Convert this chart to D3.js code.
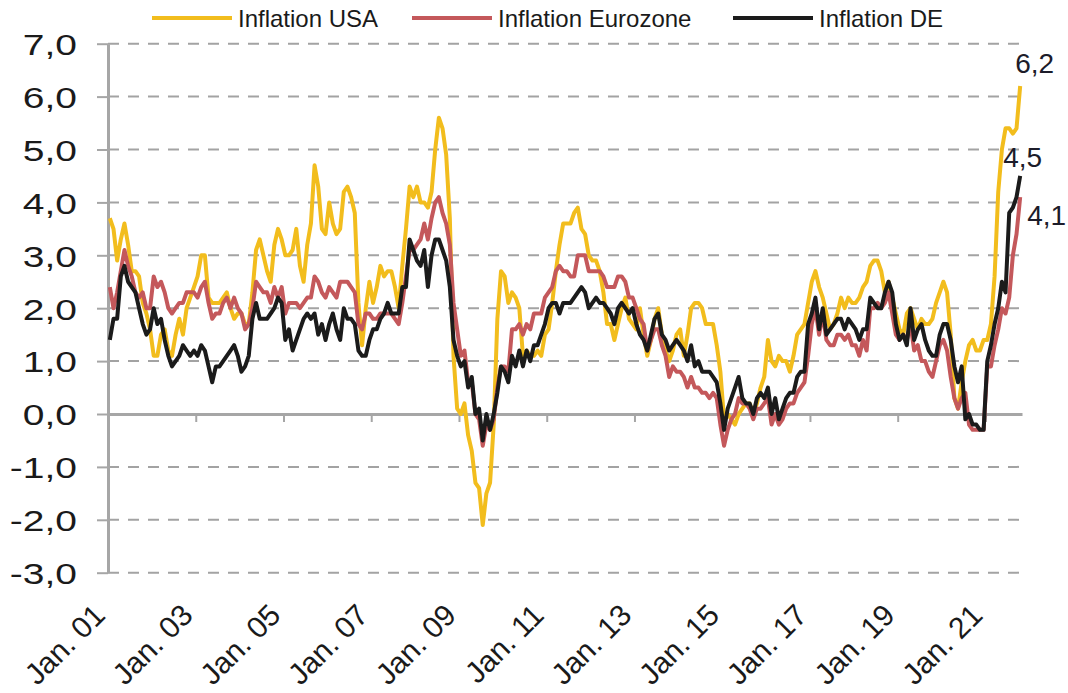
<!DOCTYPE html>
<html>
<head>
<meta charset="utf-8">
<script src="https://cdn.jsdelivr.net/npm/d3@7"></script>
<style>
  html, body { margin: 0; padding: 0; background: #fff; }
  svg { display: block; font-family: "Liberation Sans", Arial, sans-serif; }
</style>
</head>
<body>
<svg id="chart" width="1068" height="693"></svg>
<script>
// Inflation rates, % yoy, monthly Jan 2001 - Oct 2021
const usa = [
  3.7, 3.5, 2.9, 3.3, 3.6, 3.2, 2.7, 2.7, 2.6, 2.1, 1.9, 1.6,
  1.1, 1.1, 1.5, 1.6, 1.2, 1.1, 1.5, 1.8, 1.5, 2.0, 2.2, 2.4,
  2.6, 3.0, 3.0, 2.2, 2.1, 2.1, 2.1, 2.2, 2.3, 2.0, 1.8, 1.9,
  1.9, 1.7, 1.7, 2.3, 3.1, 3.3, 3.0, 2.7, 2.5, 3.2, 3.5, 3.3,
  3.0, 3.0, 3.1, 3.5, 2.8, 2.5, 3.2, 3.6, 4.7, 4.3, 3.5, 3.4,
  4.0, 3.6, 3.4, 3.5, 4.2, 4.3, 4.1, 3.8, 2.1, 1.3, 2.0, 2.5,
  2.1, 2.4, 2.8, 2.6, 2.7, 2.7, 2.4, 2.0, 2.8, 3.5, 4.3, 4.1,
  4.3, 4.0, 4.0, 3.9, 4.2, 5.0, 5.6, 5.4, 4.9, 3.7, 1.1, 0.1,
  0.0, 0.2, -0.4, -0.7, -1.3, -1.4, -2.1, -1.5, -1.3, -0.2, 1.8, 2.7,
  2.6, 2.1, 2.3, 2.2, 2.0, 1.1, 1.2, 1.1, 1.1, 1.2, 1.1, 1.5,
  1.6, 2.1, 2.7, 3.2, 3.6, 3.6, 3.6, 3.8, 3.9, 3.5, 3.4, 3.0,
  2.9, 2.9, 2.7, 2.3, 1.7, 1.7, 1.4, 1.7, 2.0, 2.2, 1.8, 1.7,
  1.6, 2.0, 1.5, 1.1, 1.4, 1.8, 2.0, 1.5, 1.2, 1.0, 1.2, 1.5,
  1.6, 1.1, 1.5, 2.0, 2.1, 2.1, 2.0, 1.7, 1.7, 1.7, 1.3, 0.8,
  -0.1, 0.0, -0.1, -0.2, 0.0, 0.1, 0.2, 0.2, 0.0, 0.2, 0.5, 0.7,
  1.4, 1.0, 0.9, 1.1, 1.0, 1.0, 0.8, 1.1, 1.5, 1.6, 1.7, 2.1,
  2.5, 2.7, 2.4, 2.2, 1.9, 1.6, 1.7, 1.9, 2.2, 2.0, 2.2, 2.1,
  2.1, 2.2, 2.4, 2.5, 2.8, 2.9, 2.9, 2.7, 2.3, 2.5, 2.2, 1.9,
  1.6, 1.5, 1.9, 2.0, 1.8, 1.6, 1.8, 1.7, 1.7, 1.8, 2.1, 2.3,
  2.5, 2.3, 1.5, 0.3, 0.1, 0.6, 1.0, 1.3, 1.4, 1.2, 1.2, 1.4,
  1.4, 1.7, 2.6, 4.2, 5.0, 5.4, 5.4, 5.3, 5.4, 6.2
];

const eurozone = [
  2.4, 2.0, 2.3, 2.7, 3.1, 2.8, 2.6, 2.3, 2.2, 2.3, 2.0, 2.0,
  2.6, 2.4, 2.5, 2.3, 2.0, 1.9, 2.0, 2.1, 2.1, 2.3, 2.3, 2.3,
  2.2, 2.4, 2.5, 2.1, 1.8, 1.9, 1.9, 2.1, 2.2, 2.0, 2.2, 2.0,
  1.9, 1.6, 1.7, 2.0, 2.5, 2.4, 2.3, 2.3, 2.1, 2.4, 2.2, 2.4,
  1.9, 2.1, 2.1, 2.1, 2.0, 2.1, 2.2, 2.2, 2.6, 2.5, 2.3, 2.2,
  2.4, 2.3, 2.2, 2.5, 2.5, 2.5, 2.4, 2.3, 1.7, 1.6, 1.9, 1.9,
  1.8, 1.8, 1.9, 1.9, 1.9, 1.9, 1.8, 1.7, 2.1, 2.6, 3.1, 3.1,
  3.2, 3.3, 3.6, 3.3, 3.7, 4.0, 4.1, 3.8, 3.6, 3.2, 2.1, 1.6,
  1.1, 1.2, 0.6, 0.6, 0.0, -0.1, -0.6, -0.2, -0.3, -0.1, 0.5, 0.9,
  0.9, 0.8, 1.6, 1.6, 1.7, 1.5, 1.7, 1.6, 1.9, 1.9, 1.9, 2.2,
  2.3, 2.4, 2.7, 2.8, 2.7, 2.7, 2.6, 2.6, 3.0, 3.0, 3.0, 2.7,
  2.7, 2.7, 2.7, 2.6, 2.4, 2.4, 2.4, 2.6, 2.6, 2.5, 2.2, 2.2,
  2.0, 1.8, 1.7, 1.2, 1.4, 1.6, 1.6, 1.3, 1.1, 0.7, 0.9, 0.8,
  0.8, 0.7, 0.5, 0.7, 0.5, 0.5, 0.4, 0.4, 0.3, 0.4, 0.3, -0.2,
  -0.6, -0.3, -0.1, 0.0, 0.3, 0.2, 0.2, 0.1, -0.1, 0.1, 0.1, 0.2,
  0.3, -0.2, 0.0, -0.2, -0.1, 0.1, 0.2, 0.2, 0.4, 0.5, 0.6, 1.1,
  1.7, 2.0, 1.5, 1.9, 1.4, 1.3, 1.3, 1.5, 1.5, 1.4, 1.5, 1.3,
  1.3, 1.1, 1.4, 1.2, 2.0, 2.0, 2.1, 2.0, 2.1, 2.3, 1.9, 1.5,
  1.4, 1.5, 1.4, 1.7, 1.2, 1.3, 1.0, 1.0, 0.8, 0.7, 1.0, 1.3,
  1.4, 1.2, 0.7, 0.3, 0.1, 0.3, 0.4, -0.2, -0.3, -0.3, -0.3, -0.3,
  0.9, 0.9, 1.3, 1.6, 2.0, 1.9, 2.2, 3.0, 3.4, 4.1
];

const germany = [
  1.4, 1.8, 1.8, 2.6, 2.8, 2.5, 2.4, 2.3, 2.0, 1.7, 1.5, 1.6,
  2.0, 1.7, 1.8, 1.4, 1.1, 0.9, 1.0, 1.1, 1.3, 1.2, 1.1, 1.2,
  1.1, 1.3, 1.2, 0.9, 0.6, 0.9, 0.9, 1.0, 1.1, 1.2, 1.3, 1.1,
  0.8, 0.9, 1.1, 1.8, 2.1, 1.8, 1.8, 1.8, 1.9, 2.0, 2.2, 2.1,
  1.4, 1.6, 1.2, 1.4, 1.6, 1.8, 1.9, 1.8, 1.9, 1.5, 1.7, 1.4,
  1.7, 1.9, 1.6, 1.4, 2.0, 1.8, 1.8, 1.7, 1.2, 1.1, 1.1, 1.4,
  1.6, 1.6, 1.8, 1.9, 2.1, 1.9, 1.9, 1.9, 2.4, 2.4, 3.3, 3.1,
  2.9, 2.8, 3.1, 2.4, 3.0, 3.3, 3.3, 3.1, 2.9, 2.4, 1.4, 1.1,
  0.9, 1.0, 0.5, 0.7, 0.0, 0.1, -0.5, 0.0, -0.3, 0.0, 0.4, 0.9,
  0.8, 0.6, 1.1, 0.9, 1.2, 0.9, 1.2, 1.0, 1.3, 1.3, 1.5, 1.7,
  2.0, 2.1, 2.1, 1.9, 2.1, 2.1, 2.1, 2.2, 2.3, 2.4, 2.3, 2.0,
  2.1, 2.2, 2.1, 2.1, 2.0, 1.9, 1.7, 2.0, 2.1, 2.0, 1.9, 2.0,
  1.7, 1.5, 1.4, 1.2, 1.5, 1.8, 1.9, 1.5, 1.4, 1.2, 1.3, 1.4,
  1.3, 1.2, 1.0, 1.3, 0.9, 1.0, 0.8, 0.8, 0.8, 0.7, 0.6, 0.2,
  -0.3, 0.1, 0.3, 0.5, 0.7, 0.3, 0.2, 0.2, 0.0, 0.3, 0.4, 0.3,
  0.5, 0.0, 0.3, -0.1, 0.1, 0.3, 0.4, 0.4, 0.7, 0.8, 0.8, 1.7,
  1.9, 2.2, 1.6, 2.0, 1.5, 1.6, 1.7, 1.8, 1.8, 1.6, 1.8, 1.7,
  1.6, 1.4, 1.6, 1.6, 2.2, 2.1, 2.0, 2.0, 2.3, 2.5, 2.3, 1.7,
  1.4, 1.5, 1.3, 2.0, 1.4, 1.6, 1.7, 1.4, 1.2, 1.1, 1.1, 1.5,
  1.7, 1.7, 1.4, 0.9, 0.6, 0.9, -0.1, 0.0, -0.2, -0.2, -0.3, -0.3,
  1.0, 1.3, 1.7, 2.0, 2.5, 2.3, 3.8, 3.9, 4.1, 4.5
];

const months = d3.timeMonth.range(new Date(2001, 0, 1), new Date(2021, 10, 1));
const tickLabels = ['Jan. 01', 'Jan. 03', 'Jan. 05', 'Jan. 07', 'Jan. 09', 'Jan. 11',
                    'Jan. 13', 'Jan. 15', 'Jan. 17', 'Jan. 19', 'Jan. 21'];
const yTicks = [-3, -2, -1, 0, 1, 2, 3, 4, 5, 6, 7];

const series = [
  { name: 'Inflation USA', values: usa, color: '#f2bd1d', legendX: 152, end: { dx: -5, dy: -13 } },
  { name: 'Inflation Eurozone', values: eurozone, color: '#c4585b', legendX: 412, end: { dx: 7, dy: 28 } },
  { name: 'Inflation DE', values: germany, color: '#1b1b1b', legendX: 733, end: { dx: -17, dy: -9 } }
];

const svg = d3.select('#chart');
const plotLeft = 108, plotRight = 1022, plotTop = 43.7, plotBottom = 572.7;

const x = d3.scaleLinear().domain([-0.5, months.length - 0.5]).range([plotLeft, plotRight]);
const y = d3.scaleLinear().domain([-3, 7]).range([plotBottom, plotTop]);
const fmt = v => v.toFixed(1).replace('.', ',');

// gridlines
svg.append('g')
  .selectAll('line')
  .data(yTicks.filter(d => d !== 0))
  .join('line')
  .attr('x1', plotLeft).attr('x2', plotRight)
  .attr('y1', d => y(d)).attr('y2', d => y(d))
  .attr('stroke', '#a3a3a3')
  .attr('stroke-width', 2)
  .attr('stroke-dasharray', '11,9');

// y axis
const yAxis = svg.append('g')
  .attr('transform', `translate(${plotLeft},0)`)
  .call(d3.axisLeft(y).tickValues(yTicks).tickFormat(fmt).tickSize(11).tickSizeOuter(0));
yAxis.select('.domain').attr('stroke', '#a6a6a6').attr('stroke-width', 3);
yAxis.selectAll('.tick line').attr('stroke', '#a6a6a6').attr('stroke-width', 2);
yAxis.selectAll('.tick text')
  .attr('x', 0)
  .attr('dy', '0.36em')
  .attr('transform', 'translate(-31,0) scale(1.3,1)')
  .attr('font-size', 30)
  .attr('font-family', '"Liberation Sans", Arial, sans-serif')
  .attr('fill', '#1a1a1a');

// zero line with category ticks every two years
const boundaries = d3.range(0, months.length, 24).map(i => i - 0.5);
const xAxis = svg.append('g')
  .attr('transform', `translate(0,${y(0)})`)
  .call(d3.axisBottom(x).tickValues(boundaries).tickFormat('').tickSize(8).tickSizeOuter(0));
xAxis.select('.domain').attr('stroke', '#a6a6a6').attr('stroke-width', 3);
xAxis.selectAll('.tick line').attr('stroke', '#a6a6a6').attr('stroke-width', 2);

// rotated date labels
svg.append('g')
  .selectAll('text')
  .data(tickLabels)
  .join('text')
  .attr('transform', (d, k) => `translate(${x(k * 24) - 3},617) rotate(-45)`)
  .attr('text-anchor', 'end')
  .attr('font-size', 30)
  .attr('fill', '#1a1a1a')
  .text(d => d);

// lines
const line = d3.line()
  .x((d, i) => x(i))
  .y(d => y(d));

svg.append('g')
  .selectAll('path')
  .data(series)
  .join('path')
  .attr('d', s => line(s.values))
  .attr('fill', 'none')
  .attr('stroke', s => s.color)
  .attr('stroke-width', 4)
  .attr('stroke-linejoin', 'round');

// end values
svg.append('g')
  .selectAll('text')
  .data(series)
  .join('text')
  .attr('x', s => x(s.values.length - 1) + s.end.dx)
  .attr('y', s => y(s.values[s.values.length - 1]) + s.end.dy)
  .attr('font-size', 28)
  .attr('fill', '#1c1c2a')
  .text(s => fmt(s.values[s.values.length - 1]));

// legend
const legend = svg.append('g')
  .selectAll('g')
  .data(series)
  .join('g')
  .attr('transform', s => `translate(${s.legendX},18)`);
legend.append('line')
  .attr('x1', 0).attr('x2', 80)
  .attr('stroke', s => s.color)
  .attr('stroke-width', 4);
legend.append('text')
  .attr('x', 86)
  .attr('dy', '0.36em')
  .attr('font-size', 24)
  .attr('fill', '#1a1a1a')
  .text(s => s.name);
</script>
</body>
</html>
